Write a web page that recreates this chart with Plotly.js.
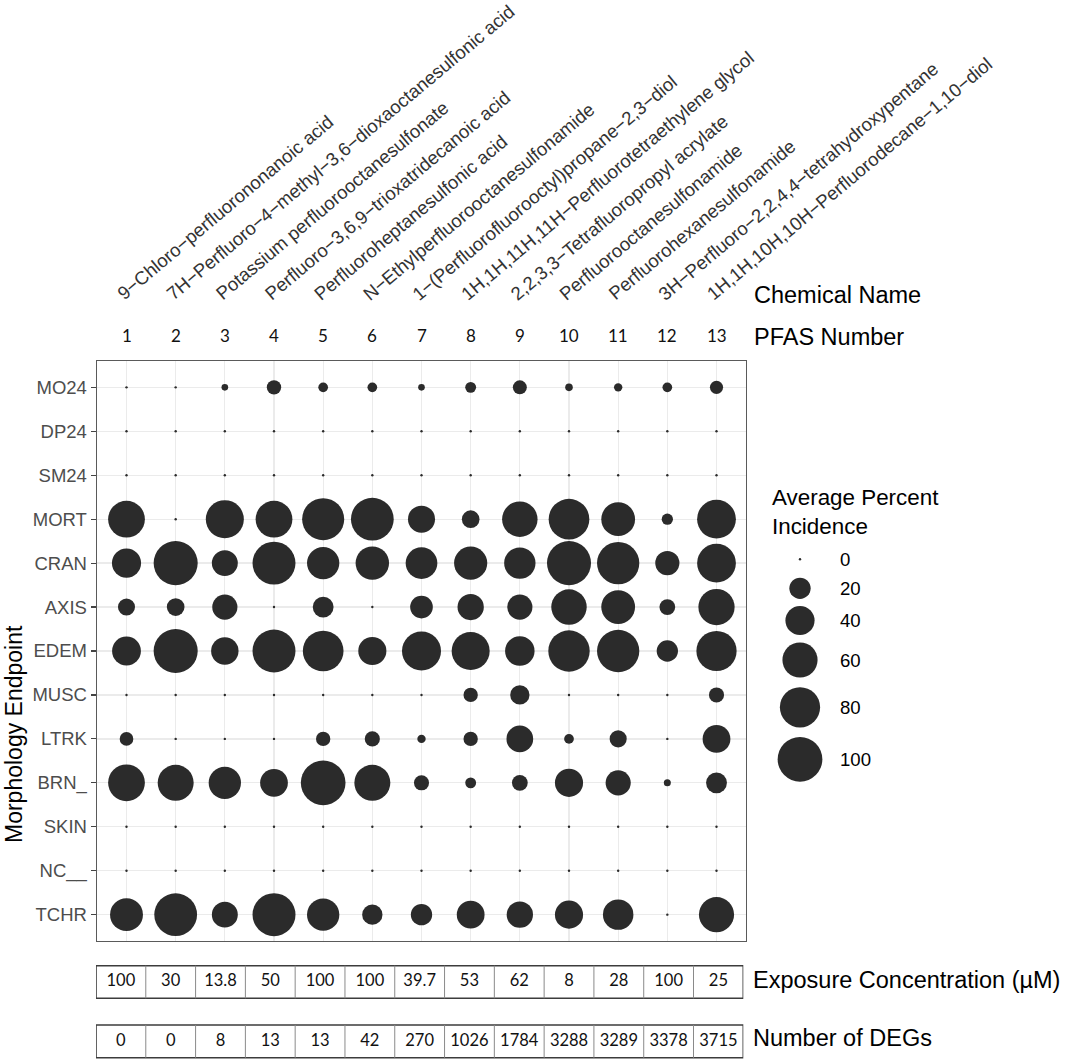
<!DOCTYPE html>
<html><head><meta charset="utf-8">
<script src="https://cdn.plot.ly/plotly-3.0.1.min.js"></script>
<style>html,body{margin:0;padding:0;background:#fff}</style>
</head><body><div id="chart" style="width:1065px;height:1060px"></div>
<script>
// ---------- data ----------
const pfasNumbers = [1,2,3,4,5,6,7,8,9,10,11,12,13];
const chemicalNames = [
  "9\u2212Chloro\u2212perfluorononanoic acid",
  "7H\u2212Perfluoro\u22124\u2212methyl\u22123,6\u2212dioxaoctanesulfonic acid",
  "Potassium perfluorooctanesulfonate",
  "Perfluoro\u22123,6,9\u2212trioxatridecanoic acid",
  "Perfluoroheptanesulfonic acid",
  "N\u2212Ethylperfluorooctanesulfonamide",
  "1\u2212(Perfluorofluorooctyl)propane\u22122,3\u2212diol",
  "1H,1H,11H,11H\u2212Perfluorotetraethylene glycol",
  "2,2,3,3\u2212Tetrafluoropropyl acrylate",
  "Perfluorooctanesulfonamide",
  "Perfluorohexanesulfonamide",
  "3H\u2212Perfluoro\u22122,2,4,4\u2212tetrahydroxypentane",
  "1H,1H,10H,10H\u2212Perfluorodecane\u22121,10\u2212diol"
];
const endpoints = ["MO24","DP24","SM24","MORT","CRAN","AXIS","EDEM","MUSC","LTRK","BRN_","SKIN","NC__","TCHR"];
const MO24 = [0, 0, 1, 8, 3, 3, 1, 4, 7.5, 1.5, 2, 3, 6.5];
const DP24 = [0,0,0,0,0,0,0,0,0,0,0,0,0];
const SM24 = [0,0,0,0,0,0,0,0,0,0,0,0,0];
const MORT = [66, 0, 71, 66, 88, 91, 34, 13, 61, 82, 55, 4.4, 74];
const CRAN = [40, 97, 31, 92, 50, 54, 48, 53, 47, 97, 89, 26.5, 74];
const AXIS = [12, 13, 29, 0, 19, 0, 23, 32, 29, 61, 55, 10, 64];
const EDEM = [39, 97, 35, 92, 82, 37, 75, 71, 41, 85, 89, 20, 80];
const MUSC = [0, 0, 0, 0, 0, 0, 0, 8, 16, 0, 0, 0, 9];
const LTRK = [7, 0, 0, 0, 8, 9, 2, 8, 33, 3, 12, 0, 36];
const BRN_ = [66, 63, 50, 36, 100, 63, 9, 4, 10, 37, 29, 1.2, 19];
const SKIN = [0,0,0,0,0,0,0,0,0,0,0,0,0];
const NC__ = [0,0,0,0,0,0,0,0,0,0,0,0,0];
const TCHR = [52, 91, 31, 92, 50, 18, 20, 36, 32, 37, 44, 0, 60];
const exposureConc = ["100","30","13.8","50","100","100","39.7","53","62","8","28","100","25"];
const numDEGs = ["0","0","8","13","13","42","270","1026","1784","3288","3289","3378","3715"];
const legendValues = [0, 20, 40, 60, 80, 100];

// ---------- layout helpers ----------
const W = 1065, H = 1060;
const px = x => x / W;
const py = y => 1 - y / H;
const sizeOf = v => 2.4 + 42.3 * Math.sqrt(v / 100);   // ggplot area scale
const rows = [MO24,DP24,SM24,MORT,CRAN,AXIS,EDEM,MUSC,LTRK,BRN_,SKIN,NC__,TCHR];
const SANS = "Liberation Sans, Arial, sans-serif";
const NUMF = "Lato, Carlito, sans-serif";
const DOT = "#2b2b2b";
const legendY = [559.3, 588.3, 620.5, 660, 707.3, 759.3];

const mx = [], my = [], ms = [], mv = [];
rows.forEach((vals, r) => vals.forEach((v, c) => {
  mx.push(pfasNumbers[c]); my.push(endpoints[r]); ms.push(sizeOf(v)); mv.push(v);
}));

const traces = [
  { type: "scatter", mode: "markers", x: mx, y: my, text: mv,
    marker: { size: ms, sizemode: "diameter", color: DOT, opacity: 1, line: { width: 0 } },
    xaxis: "x", yaxis: "y", hoverinfo: "x+y+text", cliponaxis: false },
  // table values
  { type: "scatter", mode: "text", x: pfasNumbers, y: pfasNumbers.map(() => 982),
    text: exposureConc, textfont: { family: NUMF, size: 16.5, color: "#111" },
    xaxis: "x2", yaxis: "y2", hoverinfo: "skip", cliponaxis: false },
  { type: "scatter", mode: "text", x: pfasNumbers, y: pfasNumbers.map(() => 1041.5),
    text: numDEGs, textfont: { family: NUMF, size: 16.5, color: "#111" },
    xaxis: "x2", yaxis: "y2", hoverinfo: "skip", cliponaxis: false },
  // size legend
  { type: "scatter", mode: "markers", x: legendValues.map(() => 800), y: legendY,
    marker: { size: legendValues.map(sizeOf), sizemode: "diameter", color: DOT, opacity: 1, line: { width: 0 } },
    xaxis: "x3", yaxis: "y2", hoverinfo: "skip", cliponaxis: false }
];

const annotations = [];
// chemical names (rotated) and PFAS numbers above panel
chemicalNames.forEach((n, i) => annotations.push({
  xref: "x", yref: "paper", x: pfasNumbers[i], y: py(307), xanchor: "left", yanchor: "bottom",
  xshift: -16, text: n, textangle: -40, showarrow: false,
  font: { family: SANS, size: 18.6, color: "#333" }
}));
pfasNumbers.forEach(n => annotations.push({
  xref: "x", yref: "paper", x: n, y: py(336), xanchor: "center", yanchor: "middle",
  text: String(n), showarrow: false, font: { family: NUMF, size: 17, color: "#111" }
}));
// right-side labels
const sideLabel = (t, x, y, s) => ({ xref: "paper", yref: "paper", x: px(x), y: py(y),
  xanchor: "left", yanchor: "middle", align: "left", text: t, showarrow: false,
  font: { family: SANS, size: s || 23.5, color: "#000" } });
annotations.push(sideLabel("Chemical Name", 752, 295));
annotations.push(sideLabel("PFAS Number", 752, 337));
annotations.push(sideLabel("Exposure Concentration (\u00b5M)", 751, 980));
annotations.push(sideLabel("Number of DEGs", 751, 1038));
annotations.push(sideLabel("Average Percent<br>Incidence", 770, 512, 22.4));
legendValues.forEach((v, i) => annotations.push(sideLabel(String(v), 838, legendY[i], 18.6)));
// y-axis title
annotations.push({ xref: "paper", yref: "paper", x: px(14), y: py(734), xanchor: "center", yanchor: "middle",
  text: "Morphology Endpoint", textangle: -90, showarrow: false,
  font: { family: SANS, size: 23, color: "#000" } });

// table shapes
const shapes = [];
[[965.7, 998.3], [1025, 1057.7]].forEach(([t, b]) => {
  shapes.push({ type: "rect", xref: "x2", yref: "y2", x0: 0.5, x1: 13.5, y0: t, y1: b,
    line: { color: "#3c3c3c", width: 1.6 }, fillcolor: "rgba(0,0,0,0)" });
  for (let k = 1; k < 13; k++) shapes.push({ type: "line", xref: "x2", yref: "y2",
    x0: k + 0.5, x1: k + 0.5, y0: t, y1: b, line: { color: "#8a8a8a", width: 1 } });
});

const layout = {
  width: W, height: H, margin: { l: 0, r: 0, t: 0, b: 0 },
  paper_bgcolor: "#fff", plot_bgcolor: "rgba(0,0,0,0)", showlegend: false,
  xaxis: { domain: [px(97), px(746)], range: [0.4, 13.6], anchor: "y",
    showticklabels: false, ticks: "", showgrid: true, gridcolor: "#ebebeb", gridwidth: 1.3,
    zeroline: false, showline: true, mirror: true, linecolor: "#5a5a5a", linewidth: 1.4,
    tickvals: pfasNumbers },
  yaxis: { domain: [py(941), py(361)], type: "category", categoryorder: "array",
    categoryarray: endpoints, range: [12.6, -0.6], anchor: "x",
    showgrid: true, gridcolor: "#ebebeb", gridwidth: 1.3, zeroline: false,
    showline: true, mirror: true, linecolor: "#5a5a5a", linewidth: 1.4,
    ticks: "outside", ticklen: 5, tickwidth: 1.2, tickcolor: "#444",
    tickfont: { family: SANS, size: 18.5, color: "#4d4d4d" } },
  xaxis2: { domain: [px(96), px(743.3)], range: [0.5, 13.5], anchor: "y2", visible: false },
  yaxis2: { domain: [0, 1], range: [H, 0], anchor: "x2", visible: false },
  xaxis3: { domain: [0, 1], range: [0, W], anchor: "y2", visible: false },
  annotations, shapes
};

Plotly.newPlot("chart", traces, layout, { displayModeBar: false, staticPlot: true });
</script></body></html>
